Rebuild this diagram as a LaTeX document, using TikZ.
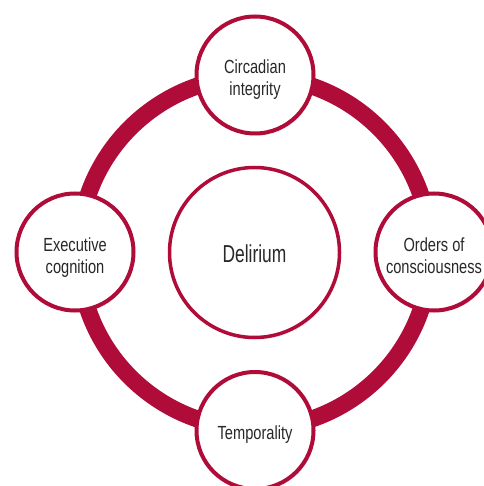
\documentclass[tikz,border=0pt]{standalone}
\usepackage{fontspec}
\setmainfont{Liberation Sans}[FakeStretch=0.77]
\newfontfamily\bigf{Liberation Sans}[FakeStretch=0.71]
\usetikzlibrary{shadows}
\definecolor{crimson}{RGB}{176,12,58}
\definecolor{txt}{RGB}{40,40,40}
\begin{document}
\begin{tikzpicture}[x=1pt,y=-1pt,
  bubble/.style={circle,draw=crimson,line width=4pt,fill=white,minimum size=117pt,inner sep=0pt,
    align=center,text=txt,font=\fontsize{19}{22}\selectfont,
    drop shadow={opacity=0.2,shadow xshift=1.5pt,shadow yshift=-2pt}},
  twoline/.style={text height=20pt,text depth=22pt},
  oneline/.style={text height=17pt,text depth=0pt},
  core/.style={circle,draw=crimson,line width=3.5pt,fill=white,minimum size=170pt,inner sep=0pt,
    align=center,text=txt,font=\bigf\fontsize{24.5}{26}\selectfont,text height=20pt,text depth=0pt,
    drop shadow={opacity=0.2,shadow xshift=1.5pt,shadow yshift=-2pt}}]
\useasboundingbox (0,0) rectangle (483,486);
\coordinate (ringc) at (254.5,252.5);
\draw[crimson,line width=17pt] (ringc) circle[radius=176pt];
\node[core] (del) at (254.5,252.5) {Delirium};
\node[bubble,twoline] (top) at (255,75) {\begin{tabular}[t]{@{}c@{}}Circadian\\integrity\end{tabular}};
\node[bubble,twoline] (left) at (75,252) {\begin{tabular}[t]{@{}c@{}}Executive\\cognition\end{tabular}};
\node[bubble,twoline] (right) at (434,252) {\begin{tabular}[t]{@{}c@{}}Orders of\\consciousness\end{tabular}};
\node[bubble,oneline] (bot) at (255,430.5) {Temporality};
\end{tikzpicture}
\end{document}
